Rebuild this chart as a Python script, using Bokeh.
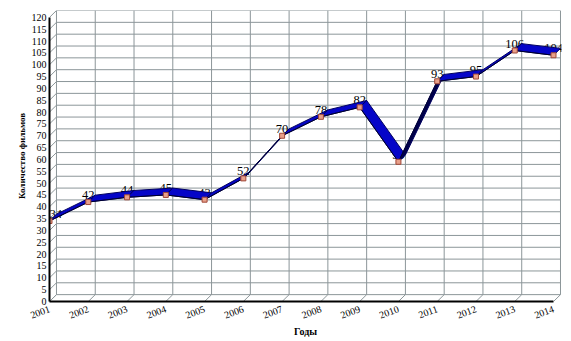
import numpy as np
from bokeh.plotting import figure
from bokeh.models import Range1d, FixedTicker
from bokeh.embed import file_html
from bokeh.resources import INLINE
from bokeh.core.properties import value

years = ["2001", "2002", "2003", "2004", "2005", "2006", "2007",
         "2008", "2009", "2010", "2011", "2012", "2013", "2014"]
films = [34, 42, 44, 45, 43, 52, 70, 78, 82, 59, 93, 95, 106, 104]
y_ticks = list(range(0, 121, 5))

# 3D depth offset (data units) used for the back wall and ribbon
DX, DY = 0.18, 2.9
PX, PY = 38.77, 2.37  # approx pixels per data unit (for face shading)

x = list(range(len(years)))
n = len(years)

p = figure(frame_width=512, frame_height=291,
           x_range=Range1d(0, n - 1 + 0.206), y_range=Range1d(0, 120 + DY),
           output_backend="svg", toolbar_location=None,
           min_border_left=49, min_border_top=10, min_border_right=2,
           min_border_bottom=5)
p.outline_line_color = None
p.xgrid.visible = False
p.ygrid.visible = False
p.background_fill_color = "white"

grid_col = "#8c9699"
# back wall horizontal lines
p.segment(x0=[DX] * len(y_ticks), y0=[v + DY for v in y_ticks],
          x1=[n - 1 + DX] * len(y_ticks), y1=[v + DY for v in y_ticks],
          line_color=grid_col, line_width=1)
# back wall vertical lines
p.segment(x0=[i + DX for i in x], y0=[DY] * n,
          x1=[i + DX for i in x], y1=[120 + DY] * n,
          line_color=grid_col, line_width=1)
# side wall lines
p.segment(x0=[0] * len(y_ticks), y0=y_ticks,
          x1=[DX] * len(y_ticks), y1=[v + DY for v in y_ticks],
          line_color=grid_col, line_width=1)
# floor lines
p.segment(x0=x, y0=[0] * n, x1=[i + DX for i in x], y1=[DY] * n,
          line_color=grid_col, line_width=1)

# value labels (drawn first, ribbon overlaps them as in the original)
aligns = ["left"] + ["center"] * (n - 1)
p.text(x=x, y=films, text=[str(v) for v in films],
       text_font=value("Liberation Serif"), text_font_size="12.5px",
       text_align=aligns, text_baseline="bottom", y_offset=-3,
       text_color="black")

# ribbon faces
xs, ys, fills = [], [], []
for i in range(n - 1):
    x0, x1 = x[i], x[i + 1]
    y0, y1 = films[i], films[i + 1]
    xs.append([x0, x1, x1 + DX, x0 + DX])
    ys.append([y0, y1, y1 + DY, y0 + DY])
    sx = (x1 - x0) * PX
    sy = -(y1 - y0) * PY
    cross = sx * (-DY * PY) - sy * (DX * PX)
    fills.append("#00004a" if cross > 0 else "#0505c8")
p.patches(xs, ys, fill_color=fills, line_color="#000060", line_width=1)
p.line(x, films, line_color="#000030", line_width=1)

# markers
p.scatter(x, films, marker="square", size=5, fill_color="#e8a08a",
          line_color="#a04838", line_width=1)

# axes
p.xaxis.ticker = FixedTicker(ticks=x)
p.xaxis.major_label_overrides = {i: years[i] for i in x}
p.xaxis.major_label_orientation = 0.35
p.xaxis.bounds = (0, n - 1)
p.yaxis.ticker = FixedTicker(ticks=y_ticks)
p.yaxis.bounds = (0, 120)
for ax in (p.xaxis, p.yaxis):
    ax.axis_line_color = "black"
    ax.axis_line_width = 2
    ax.major_tick_in = 0
    ax.major_tick_out = 0
    ax.minor_tick_in = 0
    ax.minor_tick_out = 0
    ax.major_label_text_font = "Liberation Serif"
    ax.major_label_text_font_size = "10px"
    ax.major_label_text_color = "black"
    ax.axis_label_text_font = "Liberation Serif"
    ax.axis_label_text_font_style = "bold"
    ax.axis_label_text_color = "black"
p.xaxis.axis_label_text_font_size = "10px"
p.yaxis.axis_label_text_font_size = "9px"
p.yaxis.major_label_standoff = 3
p.xaxis.major_label_standoff = 7
p.xaxis.axis_label = "Годы"
p.yaxis.axis_label = "Количество фильмов"
p.xaxis.axis_label_standoff = 1
p.yaxis.axis_label_standoff = 2

open("out.html", "w").write(file_html(p, INLINE))
